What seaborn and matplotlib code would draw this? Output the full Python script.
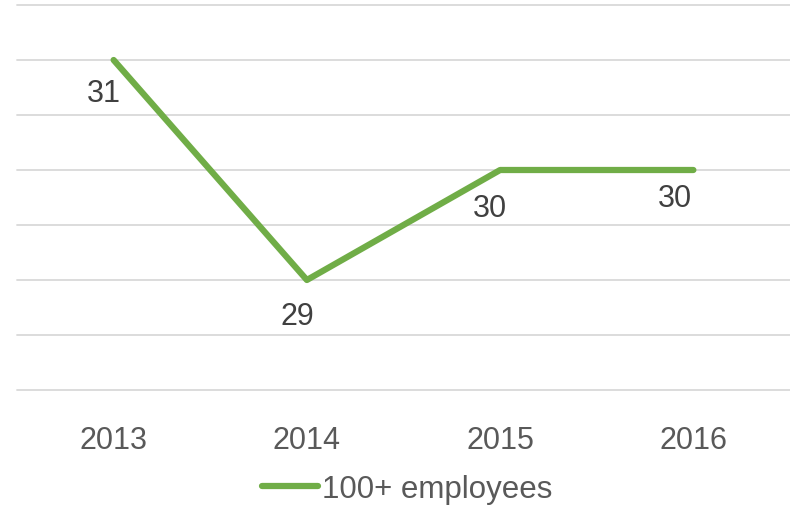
import matplotlib

matplotlib.use("Agg")
import matplotlib.pyplot as plt
import numpy as np
import pandas as pd
import seaborn as sns

# data
years = ["2013", "2014", "2015", "2016"]
values = [31, 29, 30, 30]
series_name = "100+ employees"
# per-label offsets (pixels) of the data labels relative to the points
label_dx = [-10, -10, -10, -18]
label_dy = [-33, -36, -38, -28]

GREEN = "#70AD47"
GRID = "#D9D9D9"

sns.set_theme(style="white")
plt.rcParams["font.family"] = ["Liberation Sans", "DejaVu Sans"]

df = pd.DataFrame({"year": years, "value": values, "series": series_name})

fig = plt.figure(figsize=(7.9, 5.06), dpi=100)
ax = fig.add_axes([17 / 790, 1 - 391 / 506, 1 - 17 / 790, (391 - 6) / 506])

sns.lineplot(
    data=df, x="year", y="value", hue="series", palette=[GREEN],
    linewidth=4.5, solid_capstyle="round", sort=False, ax=ax,
)

ax.set_xlim(-0.5, 3.5)
ax.set_ylim(28, 31.5)
ax.set_yticks(np.arange(28, 31.51, 0.5))
ax.yaxis.grid(True, color=GRID, linewidth=1.3)
ax.set_axisbelow(True)
for gl in ax.get_ygridlines():
    gl.set_clip_on(False)
ax.tick_params(axis="y", left=False, labelleft=False)
ax.tick_params(axis="x", bottom=False, pad=19, labelsize=22, labelcolor="#595959")
for s in ax.spines.values():
    s.set_visible(False)
ax.set_xlabel("")
ax.set_ylabel("")

for i, v in enumerate(values):
    ax.annotate(
        f"{v}", (i, v), xytext=(label_dx[i], label_dy[i]),
        textcoords="offset pixels", ha="center", va="center",
        fontsize=22, color="#404040",
    )

handles, labels = ax.get_legend_handles_labels()
ax.get_legend().remove()
fig.legend(
    handles, labels, loc="center", bbox_to_anchor=(407 / 790, 1 - 490 / 506),
    frameon=False, fontsize=22.5, labelcolor="#595959", handlelength=1.8,
    handletextpad=0.1,
)

fig.savefig("out.png", dpi=100)
